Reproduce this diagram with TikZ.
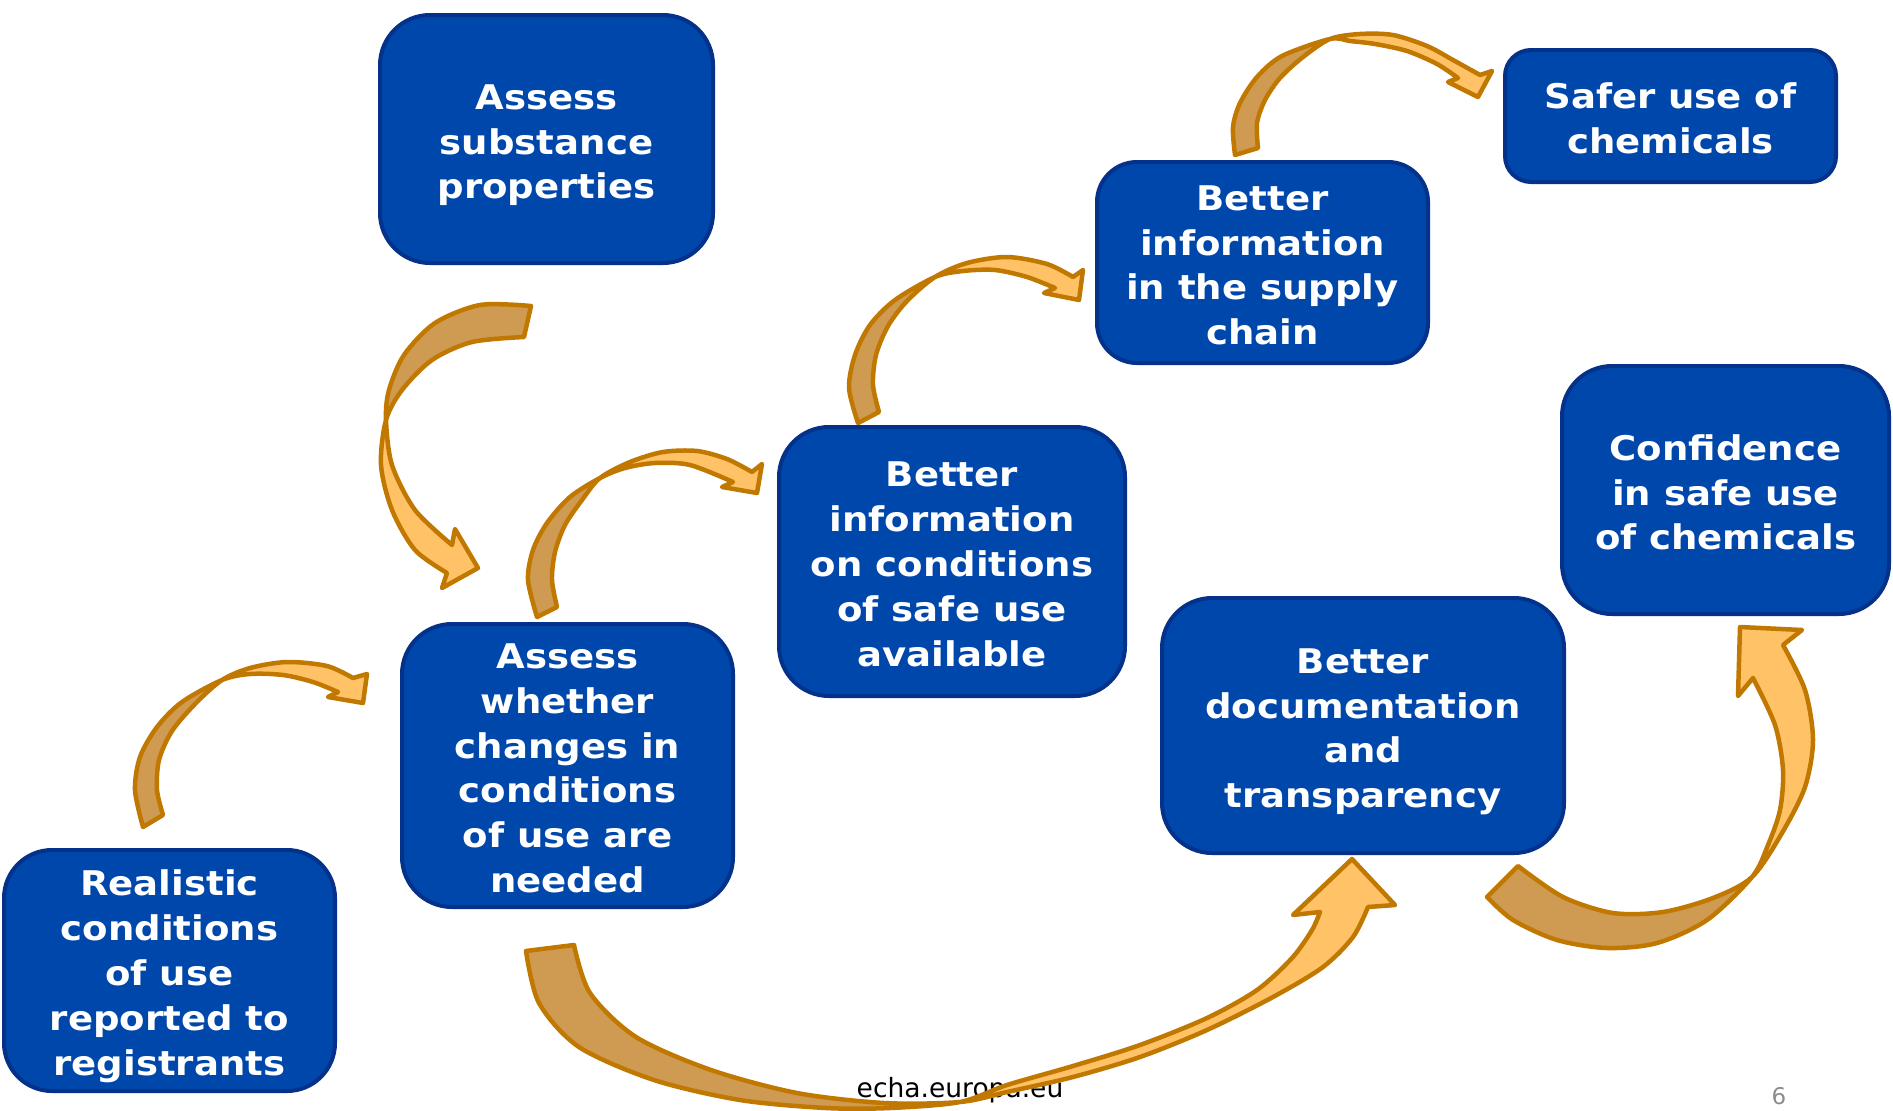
\documentclass[tikz,border=0pt]{standalone}
\usepackage{fontspec}
\setmainfont{DejaVu Sans}
\newfontfamily\boxfont{DejaVu Sans}[FakeStretch=1.09]
\definecolor{boxfill}{HTML}{0047AB}
\definecolor{boxline}{HTML}{04318A}
\definecolor{darkface}{HTML}{CF9B52}
\definecolor{lightface}{HTML}{FFC266}
\definecolor{arrline}{HTML}{C17800}
\newcommand\lsup{\rule{0pt}{39pt}}
\newcommand\lsdown{\rule[-9pt]{0pt}{9pt}}
\tikzset{
  box/.style={draw=boxline, line width=4pt, fill=boxfill, text=white,
    font=\boxfont\bfseries\fontsize{34}{44.8}\selectfont, align=center, inner sep=0pt},
  arrowoutline/.style={draw=arrline, line width=4.5pt, line join=round},
}
\newcommand\bentarrow[4]{%
  \fill[lightface] plot[smooth] coordinates {#1} -- #2 -- plot[smooth] coordinates {#3} -- cycle;
  \begin{scope}
    \clip #4;
    \fill[darkface] plot[smooth] coordinates {#1} -- #2 -- plot[smooth] coordinates {#3} -- cycle;
  \end{scope}
  \draw[arrowoutline] plot[smooth] coordinates {#1} -- #2 -- plot[smooth] coordinates {#3} -- cycle;
}
\begin{document}
\begin{tikzpicture}[x=1pt,y=-1pt]
\useasboundingbox[fill=white] (0,0) rectangle (1893,1111);

% footer
\node[font=\fontsize{26.5}{30}\selectfont, text=black, anchor=base] (footer) at (960,1097) {echa.europa.eu};
\node[font=\fontsize{23}{26}\selectfont, text=black!45, anchor=base] (pagenum) at (1779,1104) {6};

% boxes
\node[box, minimum width=333pt, minimum height=248pt, rounded corners=50pt] (b1) at (546.5,139) {\lsup Assess\\substance\\properties\lsdown};
\node[box, minimum width=331pt, minimum height=132pt, rounded corners=26pt] (b2) at (1670.5,116) {\lsup Safer use of\\chemicals\lsdown};
\node[box, minimum width=331pt, minimum height=201pt, rounded corners=40pt] (b3) at (1262.5,262.5) {\lsup Better\\information\\in the supply\\chain\lsdown};
\node[box, minimum width=346pt, minimum height=269pt, rounded corners=50pt] (b4) at (952,561.5) {\lsup Better\\information\\on conditions\\of safe use\\available\lsdown};
\node[box, minimum width=327pt, minimum height=248pt, rounded corners=50pt] (b5) at (1725.5,490) {\lsup Confidence\\in safe use\\of chemicals\lsdown};
\node[box, minimum width=402pt, minimum height=255pt, rounded corners=50pt] (b6) at (1363,725.5) {\lsup Better\\documentation\\and\\transparency\lsdown};
\node[box, minimum width=331pt, minimum height=283pt, rounded corners=50pt] (b7) at (567.5,765.5) {\lsup Assess\\whether\\changes in\\conditions\\of use are\\needed\lsdown};
\node[box, minimum width=331pt, minimum height=241pt, rounded corners=48pt] (b8) at (169.5,970.5) {\lsup Realistic\\conditions\\of use\\reported to\\registrants\lsdown};

% Arrow A: b1 -> b7
\bentarrow{(531,306) (480,305) (435,323) (404,355) (389,390) (386,420) (392,465) (415,510) (452,545)}
  {(455,529) -- (478,568) -- (442,588)}
  {(447,573) (415,550) (392,510) (381,465) (386,420) (402,390) (432,360) (472,342) (524,337)}
  {(300,250) rectangle (620,420)}

% Arrow B: b7 -> b4
\bentarrow{(537,617) (528,580) (533,550) (547,523) (570,497) (600,478) (625,468) (655,463) (690,465) (733,482)}
  {(722,487) -- (757,493) -- (762,464)}
  {(752,472) (727,459) (697,451) (663,452) (630,462) (600,478) (582,500) (565,525) (555,552) (552,580) (557,607)}
  {(687,600) -- (513,356) -- (270,530) -- (444,774) -- cycle}

% Arrow C: b8 -> b7
\bentarrow{(143,827) (135,790) (140,757) (157,727) (182,702) (222,680) (250,674) (283,675) (313,682) (338,692)}
  {(328,697) -- (363,703) -- (367,674)}
  {(353,678) (327,666) (287,662) (250,668) (222,680) (196,703) (172,731) (159,760) (157,790) (163,815)}
  {(312,858) -- (132,502) -- (-135,637) -- (45,993) -- cycle}

% Arrow D: b4 -> b3
\bentarrow{(858,423) (849,388) (855,355) (870,325) (895,300) (935,277) (963,271) (995,270) (1027,277) (1055,288)}
  {(1044,293) -- (1079,300) -- (1083,270)}
  {(1073,277) (1047,264) (1007,257) (967,263) (935,277) (907,301) (888,326) (876,355) (873,385) (879,412)}
  {(1035,447) -- (835,107) -- (580,257) -- (780,597) -- cycle}

% Arrow E: b3 -> b2
\bentarrow{(1235,155) (1233,127) (1240,103) (1257,77) (1282,56) (1330,39) (1350,41) (1375,44) (1407,51) (1437,64) (1458,78)}
  {(1448,82) -- (1478,97) -- (1492,71)}
  {(1480,75) (1453,60) (1427,46) (1393,35) (1360,34) (1330,39) (1303,57) (1280,78) (1265,100) (1257,123) (1258,148)}
  {(1390,229) -- (1270,-151) -- (985,-61) -- (1105,319) -- cycle}

% Arrow F: b7 -> b6
\bentarrow{(526,951) (539,1003) (579,1047) (654,1080) (740,1100) (826,1108) (890,1108) (960,1102) (1007,1085) (1073,1066) (1140,1045) (1207,1018) (1257,990) (1292,958) (1312,930) (1320,912)}
  {(1293,915) -- (1352,859) -- (1395,905)}
  {(1368,907) (1353,937) (1323,967) (1273,997) (1207,1030) (1140,1057) (1073,1077) (1007,1092) (960,1102) (884,1103) (797,1093) (711,1070) (636,1037) (590,993) (574,945)}
  {(400,850) rectangle (960,1150)}

% Arrow G: b6 -> b5
\bentarrow{(1487,897) (1513,920) (1557,940) (1607,948) (1657,943) (1707,920) (1752,877) (1768,845) (1780,810) (1783,770) (1775,725) (1753,678)}
  {(1738,696) -- (1740,627) -- (1802,630)}
  {(1783,645) (1805,690) (1813,740) (1805,787) (1782,833) (1752,877) (1713,898) (1663,912) (1613,913) (1563,897) (1518,866)}
  {(1893,1018) -- (1611,736) -- (1311,1036) -- (1593,1318) -- cycle}
\end{tikzpicture}
\end{document}
